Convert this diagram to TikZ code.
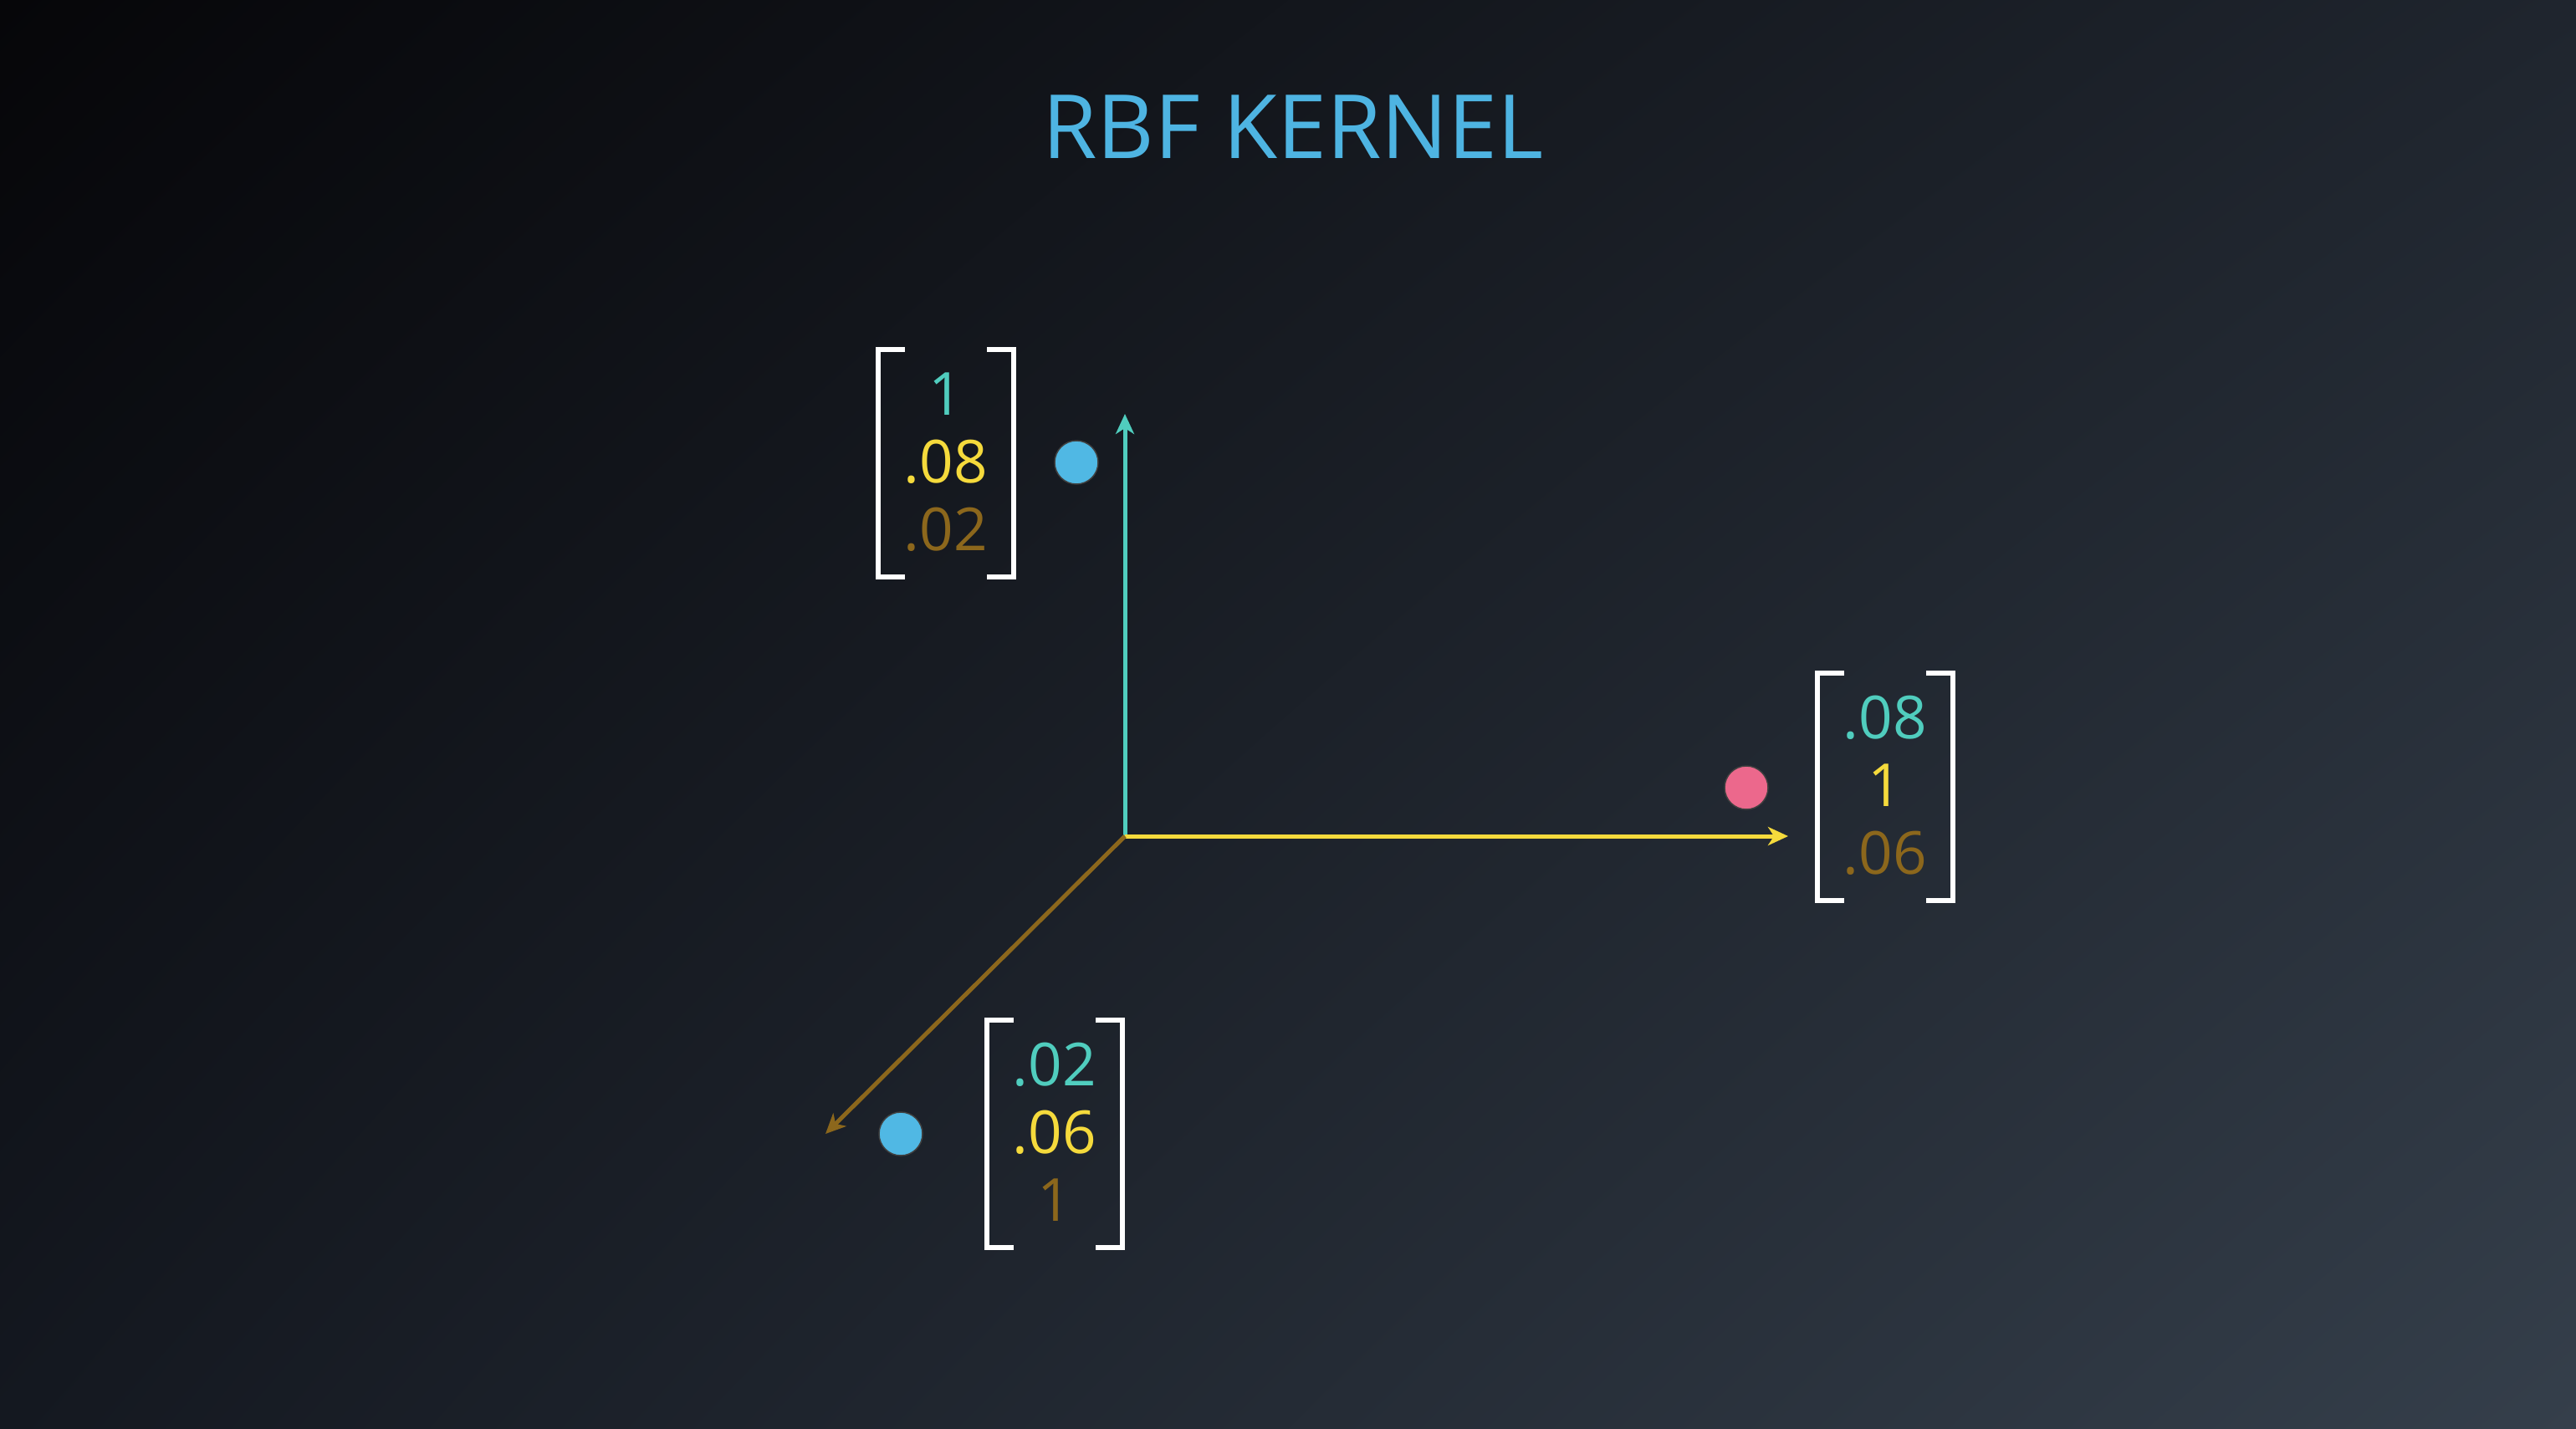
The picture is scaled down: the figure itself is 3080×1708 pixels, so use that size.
\documentclass[tikz,border=0pt]{standalone}
\usepackage{fontspec}
\setmainfont{Open Sans}
\usetikzlibrary{arrows.meta,shadings}
\definecolor{bgTL}{RGB}{6,6,9}
\definecolor{bgTR}{RGB}{31,37,46}
\definecolor{bgBL}{RGB}{20,24,32}
\definecolor{bgBR}{RGB}{53,63,75}
\definecolor{tealc}{RGB}{80,205,190}
\definecolor{yellowc}{RGB}{245,218,60}
\definecolor{brownc}{RGB}{140,103,28}
\definecolor{titlec}{RGB}{78,180,226}
\definecolor{dotblue}{RGB}{80,184,228}
\definecolor{dotpink}{RGB}{236,104,140}
\tikzset{
  axisline/.style={line width=5pt, -{Stealth[length=24pt,width=22pt,inset=7pt]}},
  bracketline/.style={draw=white, line width=5.5pt, miter limit=10},
  num/.style={inner sep=0pt, anchor=base, font=\fontsize{71}{80}\selectfont},
  dot/.style={circle, minimum size=52pt, inner sep=0pt, draw=black!75, line width=1.5pt},
  mat/.style={minimum width=162pt, minimum height=272pt, inner sep=0pt},
}
\begin{document}
\begin{tikzpicture}[x=1pt,y=-1pt]
\useasboundingbox (0,0) rectangle (3080,1708);
\shade[upper left=bgTL, upper right=bgTR, lower left=bgBL, lower right=bgBR] (0,0) rectangle (3080,1708);

\node[anchor=base, inner sep=0pt, text=titlec, font=\fontsize{106}{120}\selectfont] (title) at (1546,189) {RBF KERNEL};

% axes
\coordinate (O) at (1345,1000);
\coordinate (ytip) at (1345,495);
\coordinate (xtip) at (2138,1000);
\coordinate (ztip) at (987,1356);
\draw[axisline, tealc] (O) -- (ytip);
\draw[axisline, yellowc] (O) -- (xtip);
\draw[axisline, brownc] (O) -- (ztip);

% dots
\node[dot, fill=dotblue] (p1) at (1287,553) {};
\node[dot, fill=dotpink] (p2) at (2088,942) {};
\node[dot, fill=dotblue] (p3) at (1077,1356) {};

% matrices
\foreach \nm/\cx/\cy in {mA/1131/554, mB/2254/941, mC/1261/1356}{
  \node[mat] (\nm) at (\cx,\cy) {};
  \draw[bracketline] ([xshift=32pt]\nm.north west) -- (\nm.north west) -- (\nm.south west) -- ([xshift=32pt]\nm.south west);
  \draw[bracketline] ([xshift=-32pt]\nm.north east) -- (\nm.north east) -- (\nm.south east) -- ([xshift=-32pt]\nm.south east);
}

\node[num, text=tealc]   (a1) at ([yshift=58pt]mA.center) {1};
\node[num, text=yellowc] (a2) at ([yshift=-23pt]mA.center) {.08};
\node[num, text=brownc]  (a3) at ([yshift=-104pt]mA.center) {.02};

\node[num, text=tealc]   (b1) at ([yshift=58pt]mB.center) {.08};
\node[num, text=yellowc] (b2) at ([yshift=-23pt]mB.center) {1};
\node[num, text=brownc]  (b3) at ([yshift=-104pt]mB.center) {.06};

\node[num, text=tealc]   (c1) at ([yshift=58pt]mC.center) {.02};
\node[num, text=yellowc] (c2) at ([yshift=-23pt]mC.center) {.06};
\node[num, text=brownc]  (c3) at ([yshift=-104pt]mC.center) {1};
\end{tikzpicture}
\end{document}
